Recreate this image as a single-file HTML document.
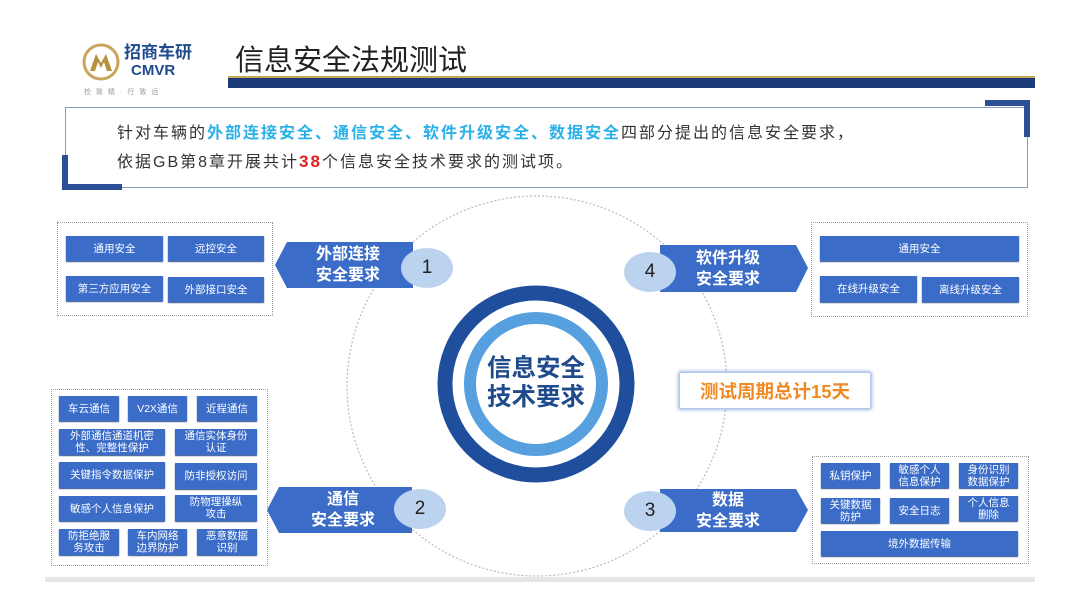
<!DOCTYPE html>
<html><head><meta charset="utf-8"><style>
body{margin:0;width:1080px;height:608px;background:#fff;position:relative;overflow:hidden;font-family:"Liberation Sans","Noto Sans CJK SC",sans-serif}
.a{position:absolute}
.b{position:absolute;background:#3a6cc8;color:#fff;font-size:10.5px;display:flex;align-items:center;justify-content:center;text-align:center;line-height:12px;box-shadow:0 1px 1px #2a4c8c}
.dot{position:absolute;border:1.5px dotted #999}
.el{position:absolute;background:#bcd3f0;border-radius:50%;font-size:19px;color:#222;display:flex;align-items:center;justify-content:center}
.lab{position:absolute;color:#fff;font-weight:bold;font-size:16px;text-align:center;line-height:21px}
</style></head><body>
<!-- header -->
<svg class="a" style="left:82px;top:43px" width="40" height="38" viewBox="0 0 40 38"><circle cx="19" cy="19" r="17" fill="none" stroke="#c9a55c" stroke-width="3"/><path d="M8 28 L14 11 L19 20 L24 11 L30 28 L25 28 L22 19 L19 25 L16 19 L13 28Z" fill="#b8913e"/></svg>
<div class="a" style="left:124px;top:44px;font-size:17px;font-weight:bold;color:#1f4b8c;line-height:18px">招商车研</div>
<div class="a" style="left:131px;top:63px;font-size:15px;font-weight:bold;color:#1f4b8c;line-height:15px">CMVR</div>
<div class="a" style="left:84px;top:87px;font-size:7px;color:#999;letter-spacing:5px">检致精·行致远</div>
<div class="a" style="left:235px;top:37px;font-size:29px;color:#222">信息安全法规测试</div>
<div class="a" style="left:228px;top:76px;width:807px;height:2px;background:#c9a55c"></div>
<div class="a" style="left:228px;top:78px;width:807px;height:10px;background:#1b3a78"></div>
<!-- intro -->
<div class="a" style="left:65px;top:107px;width:961px;height:79px;border:1.5px solid #8a9bb8"></div>
<div class="a" style="left:62px;top:155px;width:6px;height:35px;background:#2b4f95"></div>
<div class="a" style="left:62px;top:184px;width:60px;height:6px;background:#2b4f95"></div>
<div class="a" style="left:1024px;top:100px;width:6px;height:37px;background:#2b4f95"></div>
<div class="a" style="left:985px;top:100px;width:45px;height:6px;background:#2b4f95"></div>
<div class="a" style="left:117px;top:120px;font-size:16px;letter-spacing:2px;color:#333;line-height:28px;white-space:nowrap">针对车辆的<b style="color:#2ab0e8">外部连接安全、通信安全、软件升级安全、数据安全</b>四部分提出的信息安全要求，<br>依据GB第8章开展共计<b style="color:#e02020;font-size:17px">38</b>个信息安全技术要求的测试项。</div>
<!-- circles -->
<svg class="a" style="left:0;top:0" width="1080" height="608">
<circle cx="537" cy="386" r="190" fill="none" stroke="#bbb" stroke-width="1.2" stroke-dasharray="2 2"/>
<circle cx="536" cy="384" r="91" fill="none" stroke="#1f4e9c" stroke-width="15"/>
<circle cx="536" cy="384" r="66" fill="none" stroke="#56a0e0" stroke-width="12"/>
<polygon points="275,265 287,242 413,242 413,288 287,288" fill="#3a6cc8"/>
<polygon points="660,245 796,245 808,268 796,292 660,292" fill="#3a6cc8"/>
<polygon points="267,510 279,487 412,487 412,533 279,533" fill="#3a6cc8"/>
<polygon points="660,489 796,489 808,510 796,532 660,532" fill="#3a6cc8"/>
</svg>
<div class="a" style="left:474px;top:354px;width:124px;text-align:center;font-size:24.5px;font-weight:bold;color:#1f4b8c;line-height:29px">信息安全<br>技术要求</div>
<!-- orange -->
<div class="a" style="left:679px;top:372px;width:190px;height:35px;background:#fff;border:1px solid #b8c8e8;box-shadow:0 0 4px #6a8fd0;font-size:18.5px;font-weight:bold;color:#f08a24;display:flex;align-items:center;justify-content:center">测试周期总计15天</div>
<!-- labels -->
<div class="lab" style="left:300px;top:244px;width:96px">外部连接<br>安全要求</div>
<div class="el" style="left:401px;top:248px;width:52px;height:40px">1</div>
<div class="lab" style="left:680px;top:248px;width:96px">软件升级<br>安全要求</div>
<div class="el" style="left:624px;top:252px;width:52px;height:40px">4</div>
<div class="lab" style="left:295px;top:489px;width:96px">通信<br>安全要求</div>
<div class="el" style="left:394px;top:489px;width:52px;height:40px">2</div>
<div class="lab" style="left:680px;top:490px;width:96px">数据<br>安全要求</div>
<div class="el" style="left:624px;top:491px;width:52px;height:40px">3</div>
<!-- box 1 -->
<div class="dot" style="left:57px;top:222px;width:214px;height:92px"></div>
<div class="b" style="left:66px;top:236px;width:97px;height:25px">通用安全</div>
<div class="b" style="left:168px;top:236px;width:96px;height:25px">远控安全</div>
<div class="b" style="left:66px;top:276px;width:97px;height:25px">第三方应用安全</div>
<div class="b" style="left:168px;top:277px;width:96px;height:25px">外部接口安全</div>
<!-- box 4 -->
<div class="dot" style="left:811px;top:222px;width:215px;height:93px"></div>
<div class="b" style="left:820px;top:236px;width:199px;height:25px">通用安全</div>
<div class="b" style="left:820px;top:276px;width:97px;height:26px">在线升级安全</div>
<div class="b" style="left:922px;top:277px;width:97px;height:25px">离线升级安全</div>
<!-- box 2 -->
<div class="dot" style="left:51px;top:389px;width:215px;height:175px"></div>
<div class="b" style="left:59px;top:396px;width:60px;height:25px">车云通信</div>
<div class="b" style="left:128px;top:396px;width:59px;height:25px">V2X通信</div>
<div class="b" style="left:197px;top:396px;width:60px;height:25px">近程通信</div>
<div class="b" style="left:59px;top:429px;width:106px;height:26px">外部通信通道机密<br>性、完整性保护</div>
<div class="b" style="left:175px;top:429px;width:82px;height:26px">通信实体身份<br>认证</div>
<div class="b" style="left:59px;top:462px;width:106px;height:26px">关键指令数据保护</div>
<div class="b" style="left:175px;top:463px;width:82px;height:26px">防非授权访问</div>
<div class="b" style="left:59px;top:496px;width:106px;height:25px">敏感个人信息保护</div>
<div class="b" style="left:175px;top:495px;width:82px;height:26px">防物理操纵<br>攻击</div>
<div class="b" style="left:59px;top:529px;width:60px;height:26px">防拒绝服<br>务攻击</div>
<div class="b" style="left:128px;top:529px;width:59px;height:26px">车内网络<br>边界防护</div>
<div class="b" style="left:197px;top:529px;width:60px;height:26px">恶意数据<br>识别</div>
<!-- box 3 -->
<div class="dot" style="left:812px;top:456px;width:215px;height:106px"></div>
<div class="b" style="left:821px;top:463px;width:59px;height:25px">私钥保护</div>
<div class="b" style="left:890px;top:463px;width:59px;height:25px">敏感个人<br>信息保护</div>
<div class="b" style="left:959px;top:463px;width:59px;height:25px">身份识别<br>数据保护</div>
<div class="b" style="left:821px;top:498px;width:59px;height:25px">关键数据<br>防护</div>
<div class="b" style="left:890px;top:498px;width:59px;height:25px">安全日志</div>
<div class="b" style="left:959px;top:496px;width:59px;height:25px">个人信息<br>删除</div>
<div class="b" style="left:821px;top:531px;width:197px;height:25px">境外数据传输</div>
<div class="a" style="left:45px;top:577px;width:990px;height:5px;background:#e6e6e6"></div>
</body></html>
